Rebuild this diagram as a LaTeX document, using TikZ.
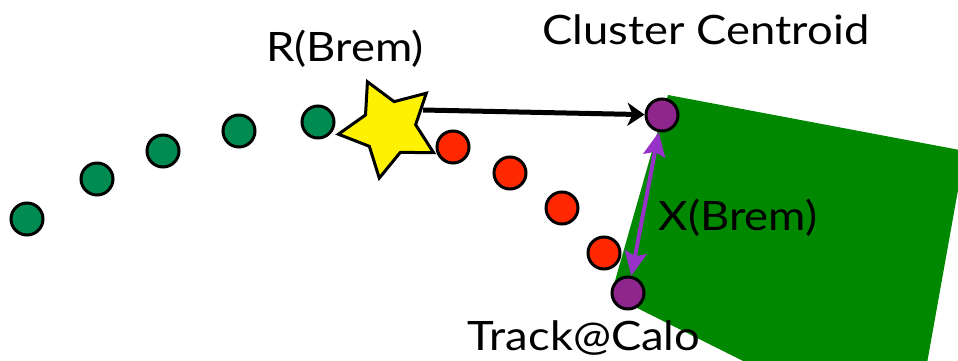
\documentclass[tikz,border=0pt]{standalone}
\usepackage{fontspec}
\setmainfont{Lato}[FakeStretch=1.12]
\usetikzlibrary{shapes.geometric,arrows.meta}
\definecolor{trackgreen}{RGB}{0,140,80}
\definecolor{calogreen}{RGB}{0,136,0}
\definecolor{brred}{RGB}{255,40,0}
\definecolor{dotpurple}{RGB}{142,38,142}
\definecolor{arrpurple}{RGB}{150,50,200}
\tikzset{
  dotnode/.style={circle,draw=black,line width=3pt,minimum size=32pt,inner sep=0pt},
  gdot/.style={dotnode,fill=trackgreen},
  rdot/.style={dotnode,fill=brred},
  pdot/.style={dotnode,fill=dotpurple},
  lbl/.style={font=\fontsize{40.5}{44}\selectfont,inner sep=0pt,anchor=base},
}
\begin{document}
\begin{tikzpicture}[x=1pt,y=-1pt]
\useasboundingbox (0,0) rectangle (958,361);
\begin{scope}
\clip (0,0) rectangle (958,361);
\fill[calogreen] (668,95) -- (965,151) -- (924,380) -- (781,380) -- (611,295) -- cycle;
\end{scope}
% track dots
\node[gdot] (g1) at (27,219) {};
\node[gdot] (g2) at (97,179) {};
\node[gdot] (g3) at (163,151) {};
\node[gdot] (g4) at (239,131) {};
\node[gdot] (g5) at (318,122) {};
\node[rdot] (r1) at (453,147) {};
\node[rdot] (r2) at (510,173) {};
\node[rdot] (r3) at (562,208) {};
\node[rdot] (r4) at (604,253) {};
% star
\node[star,star points=5,star point ratio=1.9,minimum size=102pt,inner sep=0pt,
      rotate=25,draw=black,line width=3pt,fill=yellow] (star) at (389,128) {};
% purple points
\node[pdot] (ctop) at (662,115) {};
\node[pdot] (track) at (628,293) {};
% arrows
\coordinate (bstart) at (423,110);
\draw[line width=5pt,-{Stealth[length=17pt,width=23pt,inset=5pt]}] (bstart) -- (ctop);
\draw[arrpurple,line width=4pt,{Stealth[length=24pt,width=22pt,inset=4pt]}-{Stealth[length=24pt,width=22pt,inset=4pt]}] (ctop) -- (track);
% labels
\node[lbl] (lr) at (345,62) {R(Brem)};
\node[lbl] (lc) at (706,45) {Cluster Centroid};
\node[lbl] (lx) at (738,230) {X(Brem)};
\node[lbl] (lt) at (584,350) {Track@Calo};
\end{tikzpicture}
\end{document}
